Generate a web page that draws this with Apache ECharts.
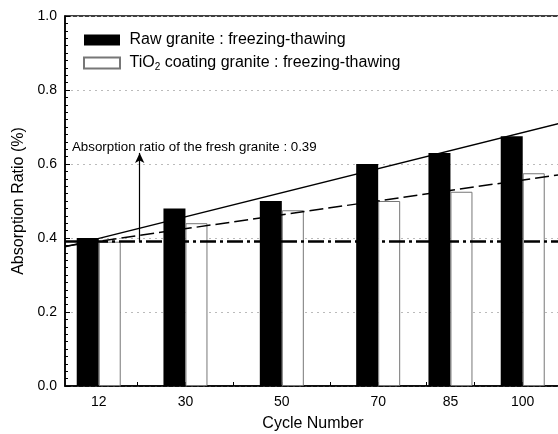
<!DOCTYPE html>
<html>
<head>
<meta charset="utf-8">
<script src="https://cdn.jsdelivr.net/npm/echarts@6/dist/echarts.min.js"></script>
<style>
html, body { margin: 0; background: #fff; }
#chart { width: 558px; height: 434px; }
</style>
</head>
<body>
<div id="chart"></div>
<script>
var FONT = '"Liberation Sans", Arial, Helvetica, sans-serif';

var cycles = [12, 30, 50, 70, 85, 100];
var rawGranite = [0.40, 0.48, 0.50, 0.60, 0.63, 0.675];
var coatedGranite = [0.39, 0.44, 0.475, 0.50, 0.525, 0.575];
var rawTrend = [[5, 0.376], [115, 0.734]];
var coatedTrend = [[5, 0.378], [115, 0.585]];
var freshValue = 0.39;
var xTicks = [10, 20, 30, 40, 50, 60, 70, 80, 90, 100, 110];

var rawName = 'Raw granite : freezing-thawing';
var coatedName = 'TiO2 coating granite : freezing-thawing';

function pairs(xs, ys) {
    return xs.map(function (x, i) { return [x, ys[i]]; });
}

var chart = echarts.init(document.getElementById('chart'));

var option = {
    animation: false,
    backgroundColor: '#fff',
    textStyle: { fontFamily: FONT, color: '#000' },
    grid: {
        left: 65, top: 16, width: 530, height: 370,
        show: true, borderColor: '#000', borderWidth: 1.5,
        containLabel: false,
        outerBoundsMode: 'none'
    },
    legend: {
        orient: 'vertical',
        left: 78, top: 27,
        icon: 'rect',
        itemWidth: 36, itemHeight: 11, itemGap: 7,
        selectedMode: false,
        data: [rawName, coatedName],
        formatter: function (name) {
            if (name === coatedName) return ' TiO{sub|2} coating granite : freezing-thawing';
            return ' ' + name;
        },
        textStyle: {
            fontFamily: FONT, fontSize: 16, color: '#000',
            rich: { sub: { fontFamily: FONT, fontSize: 10, color: '#000', padding: [8, 0, 0, 0] } }
        }
    },
    xAxis: {
        type: 'value',
        min: 5, max: 115,
        name: 'Cycle Number',
        nameLocation: 'middle',
        nameGap: 30,
        nameTextStyle: { fontSize: 16, color: '#000', fontFamily: FONT, padding: [0, 34, 0, 0] },
        axisLine: { lineStyle: { color: '#000', width: 1.5 } },
        axisTick: { show: true, inside: true, length: 4, customValues: xTicks, lineStyle: { color: '#000' } },
        axisLabel: { customValues: cycles, fontSize: 14, color: '#000', margin: 9, fontFamily: FONT },
        splitLine: { show: false }
    },
    yAxis: {
        type: 'value',
        min: 0, max: 1, interval: 0.2,
        name: 'Absorption Ratio (%)',
        nameLocation: 'middle',
        nameGap: 34,
        nameTextStyle: { fontSize: 16, color: '#000', fontFamily: FONT },
        axisLine: { show: true, lineStyle: { color: '#000', width: 1.5 } },
        axisTick: { show: true, inside: true, length: 5, lineStyle: { color: '#000' } },
        minorTick: { show: true, splitNumber: 10, length: 3, lineStyle: { color: '#000' } },
        axisLabel: {
            fontSize: 14, color: '#000', margin: 8, fontFamily: FONT,
            formatter: function (v) { return v.toFixed(1); }
        },
        splitLine: { show: true, lineStyle: { color: '#bbb', type: [2, 4], width: 1 } }
    },
    series: [
        {
            name: rawName,
            type: 'bar',
            barWidth: 22,
            barGap: '0%',
            itemStyle: { color: '#000' },
            data: pairs(cycles, rawGranite),
            z: 2
        },
        {
            name: coatedName,
            type: 'bar',
            barWidth: 22,
            barGap: '0%',
            itemStyle: { color: '#fff', borderColor: '#777', borderWidth: 1 },
            data: pairs(cycles, coatedGranite),
            z: 2
        },
        {
            name: 'raw trend',
            type: 'line',
            data: rawTrend,
            symbol: 'none',
            lineStyle: { color: '#000', width: 1.5 },
            z: 3
        },
        {
            name: 'coated trend',
            type: 'line',
            data: coatedTrend,
            symbol: 'none',
            lineStyle: { color: '#000', width: 1.5, type: [14, 5] },
            z: 3,
            markLine: {
                silent: true,
                symbol: ['none', 'none'],
                label: { show: false },
                data: [
                    { yAxis: freshValue, lineStyle: { color: '#000', width: 2.5, type: [16, 4, 3, 4] } },
                    [
                        { coord: [20.5, freshValue], symbol: 'none' },
                        { coord: [20.5, 0.63], symbol: 'arrow', symbolSize: [7, 10] }
                    ]
                ],
                lineStyle: { color: '#000', width: 1.2, type: 'solid' }
            }
        }
    ],
    graphic: [
        {
            type: 'text',
            left: 72, top: 141,
            style: {
                text: 'Absorption ratio of the fresh granite : 0.39',
                font: '13.3px ' + FONT,
                fill: '#000'
            }
        }
    ]
};

chart.setOption(option);
</script>
</body>
</html>
